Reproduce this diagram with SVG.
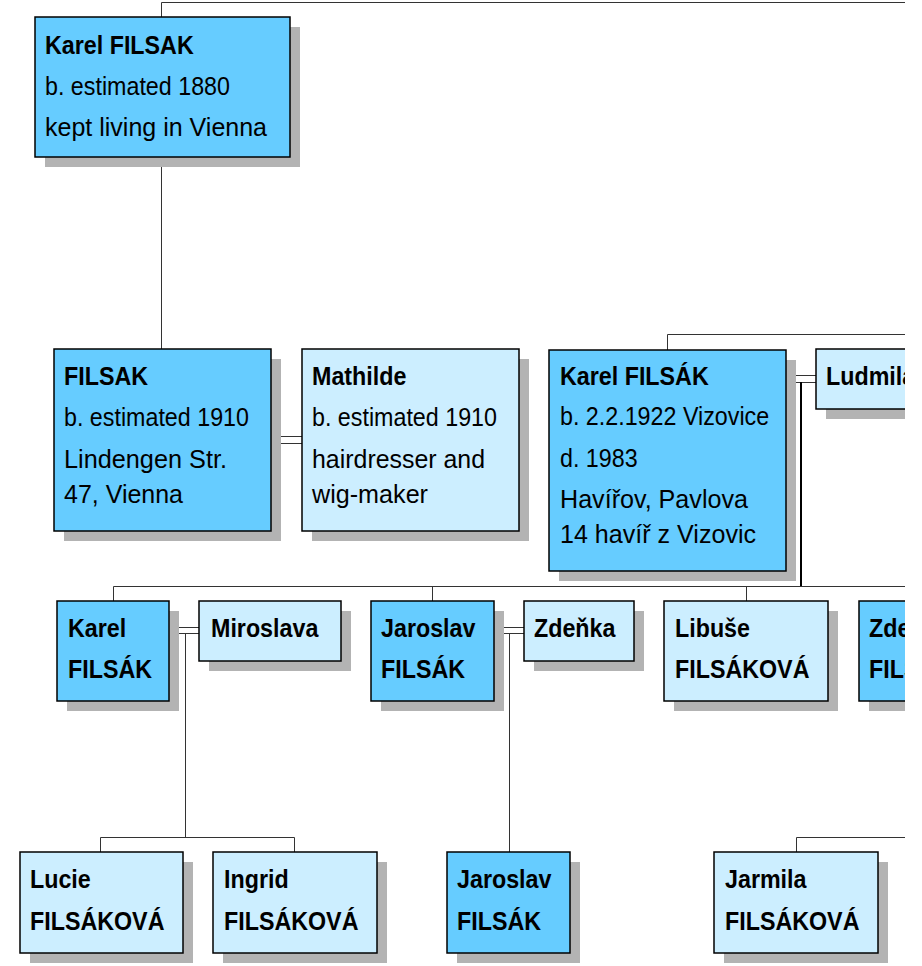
<svg xmlns="http://www.w3.org/2000/svg" width="922" height="966" viewBox="0 0 922 966">
<defs>
<clipPath id="clip"><rect x="0" y="0" width="905" height="966"/></clipPath>
</defs>
<style>
.sh{fill:#b3b3b3}
.m{fill:#66ccff;stroke:#000;stroke-width:1.5}
.f{fill:#cceeff;stroke:#000;stroke-width:1.5}
.c{fill:none;stroke:#333;stroke-width:1}
text{font-family:"Liberation Sans",Arial,sans-serif;font-size:24px;fill:#000}
.b{font-weight:bold}
</style>
<rect width="922" height="966" fill="#fff"/>
<g clip-path="url(#clip)">
<g id="connectors">
<path class="c" d="M161.5 17V2.5H905"/>
<path class="c" d="M161.5 157V350"/>
<path class="c" d="M271 436.5H302M271 443.5H302"/>
<path class="c" d="M667.5 350V334.5H905"/>
<path class="c" d="M786 375.5H817M786 382.5H817"/>
<path class="c" d="M801 382V586" style="stroke:#000;stroke-width:2"/>
<path class="c" d="M113.5 601V586.5H905"/>
<path class="c" d="M432.5 586V601M746.5 586V601"/>
<path class="c" d="M169 627.5H200M169 633.5H200"/>
<path class="c" d="M185.5 633V837M100.5 852V837.5H294.5V852"/>
<path class="c" d="M494 627.5H524M494 633.5H524"/>
<path class="c" d="M509.5 633V852"/>
<path class="c" d="M796.5 852V837.5H905"/>
</g>
<g id="n1"><rect class="sh" x="45" y="27" width="255" height="140"/><rect class="m" x="35" y="17" width="255" height="140"/>
<text class="b" transform="matrix(.97 0 0 1.1 45 54)">Karel FILSAK</text><text transform="matrix(.97 0 0 1.1 45 95)">b. estimated 1880</text><text transform="matrix(.97 0 0 1.1 45 136)" textLength="228.9" lengthAdjust="spacingAndGlyphs">kept living in Vienna</text></g>
<g id="n2"><rect class="sh" x="64" y="359" width="217" height="182"/><rect class="m" x="54" y="349" width="217" height="182"/>
<text class="b" transform="matrix(.97 0 0 1.1 64 385)">FILSAK</text><text transform="matrix(.97 0 0 1.1 64 426)">b. estimated 1910</text><text transform="matrix(.97 0 0 1.1 64 468)" textLength="168" lengthAdjust="spacingAndGlyphs">Lindengen Str.</text><text transform="matrix(.97 0 0 1.1 64 503)" textLength="122.7" lengthAdjust="spacingAndGlyphs">47, Vienna</text></g>
<g id="n3"><rect class="sh" x="312" y="359" width="217" height="182"/><rect class="f" x="302" y="349" width="217" height="182"/>
<text class="b" transform="matrix(.97 0 0 1.1 312 385)">Mathilde</text><text transform="matrix(.97 0 0 1.1 312 426)">b. estimated 1910</text><text transform="matrix(.97 0 0 1.1 312 468)" textLength="178.4" lengthAdjust="spacingAndGlyphs">hairdresser and</text><text transform="matrix(.97 0 0 1.1 312 503)" textLength="119.6" lengthAdjust="spacingAndGlyphs">wig-maker</text></g>
<g id="n4"><rect class="sh" x="559" y="360" width="237" height="221"/><rect class="m" x="549" y="350" width="237" height="221"/>
<text class="b" transform="matrix(.97 0 0 1.1 560 385)">Karel FILSÁK</text><text transform="matrix(.97 0 0 1.1 560 425)">b. 2.2.1922 Vizovice</text><text transform="matrix(.97 0 0 1.1 560 467)">d. 1983</text><text transform="matrix(.97 0 0 1.1 560 508)" textLength="193.8" lengthAdjust="spacingAndGlyphs">Havířov, Pavlova</text><text transform="matrix(.97 0 0 1.1 560 543)" textLength="202.1" lengthAdjust="spacingAndGlyphs">14 havíř z Vizovic</text></g>
<g id="n5"><rect class="sh" x="826" y="359" width="140" height="60"/><rect class="f" x="816" y="349" width="140" height="60"/>
<text class="b" transform="matrix(.97 0 0 1.1 826 385)">Ludmila</text></g>
<g id="n6"><rect class="sh" x="67" y="611" width="112" height="100"/><rect class="m" x="57" y="601" width="112" height="100"/>
<text class="b" transform="matrix(.97 0 0 1.1 68 637)">Karel</text><text class="b" transform="matrix(.97 0 0 1.1 68 678)">FILSÁK</text></g>
<g id="n7"><rect class="sh" x="209" y="611" width="142" height="60"/><rect class="f" x="199" y="601" width="142" height="60"/>
<text class="b" transform="matrix(.97 0 0 1.1 211 637)">Miroslava</text></g>
<g id="n8"><rect class="sh" x="381" y="611" width="123" height="100"/><rect class="m" x="371" y="601" width="123" height="100"/>
<text class="b" transform="matrix(.97 0 0 1.1 381 637)">Jaroslav</text><text class="b" transform="matrix(.97 0 0 1.1 381 678)">FILSÁK</text></g>
<g id="n9"><rect class="sh" x="534" y="611" width="110" height="60"/><rect class="f" x="524" y="601" width="110" height="60"/>
<text class="b" transform="matrix(.97 0 0 1.1 534 637)">Zdeňka</text></g>
<g id="n10"><rect class="sh" x="674" y="611" width="164" height="100"/><rect class="f" x="664" y="601" width="164" height="100"/>
<text class="b" transform="matrix(.97 0 0 1.1 675 637)">Libuše</text><text class="b" transform="matrix(.97 0 0 1.1 675 678)">FILSÁKOVÁ</text></g>
<g id="n11"><rect class="sh" x="869" y="611" width="120" height="100"/><rect class="m" x="859" y="601" width="120" height="100"/>
<text class="b" transform="matrix(.97 0 0 1.1 869 637)">Zde</text><text class="b" transform="matrix(.97 0 0 1.1 869 678)">FILS</text></g>
<g id="n12"><rect class="sh" x="30" y="862" width="163" height="101"/><rect class="f" x="20" y="852" width="163" height="101"/>
<text class="b" transform="matrix(.97 0 0 1.1 30 888)">Lucie</text><text class="b" transform="matrix(.97 0 0 1.1 30 930)">FILSÁKOVÁ</text></g>
<g id="n13"><rect class="sh" x="223" y="862" width="164" height="101"/><rect class="f" x="213" y="852" width="164" height="101"/>
<text class="b" transform="matrix(.97 0 0 1.1 224 888)">Ingrid</text><text class="b" transform="matrix(.97 0 0 1.1 224 930)">FILSÁKOVÁ</text></g>
<g id="n14"><rect class="sh" x="457" y="862" width="123" height="101"/><rect class="m" x="447" y="852" width="123" height="101"/>
<text class="b" transform="matrix(.97 0 0 1.1 457 888)">Jaroslav</text><text class="b" transform="matrix(.97 0 0 1.1 457 930)">FILSÁK</text></g>
<g id="n15"><rect class="sh" x="724" y="862" width="164" height="101"/><rect class="f" x="714" y="852" width="164" height="101"/>
<text class="b" transform="matrix(.97 0 0 1.1 725 888)">Jarmila</text><text class="b" transform="matrix(.97 0 0 1.1 725 930)">FILSÁKOVÁ</text></g>
</g>
</svg>
